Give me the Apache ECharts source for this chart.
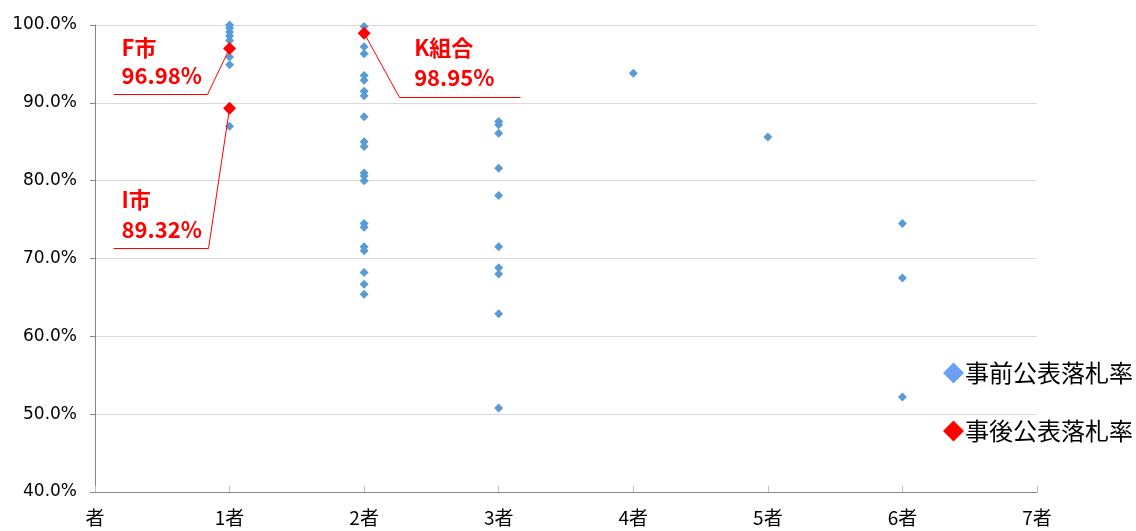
<!DOCTYPE html>
<html>
<head>
<meta charset="utf-8">
<script src="https://cdn.jsdelivr.net/npm/echarts@6/dist/echarts.min.js"></script>
<style>
  html, body { margin: 0; padding: 0; background: #ffffff; }
  #chart { width: 1136px; height: 531px; }
</style>
</head>
<body>
<div id="chart"></div>
<script>
// 事前公表落札率 (%), grouped by number of bidders
const preRates1 = [100.0, 99.6, 99.1, 98.6, 98.0, 95.9, 94.9, 87.0];
const preRates2 = [99.8, 97.2, 96.3, 93.5, 92.9, 91.5, 90.9, 88.2, 85.0, 84.4,
                   81.0, 80.6, 80.0, 74.5, 74.0, 71.5, 71.0, 68.2, 66.7, 65.4];
const preRates3 = [87.6, 87.2, 86.1, 81.6, 78.1, 71.5, 68.8, 68.0, 62.9, 50.8];
const preRates4 = [93.8];
const preRates5 = [85.6];
const preRates6 = [74.5, 67.5, 52.2];

// 事後公表落札率 (%)
const postNames = ['F市', 'I市', 'K組合'];
const postBidders = [1, 1, 2];
const postRates = [96.98, 89.32, 98.95];

// Axis ticks
const yTicks = [40, 50, 60, 70, 80, 90, 100];
const xTicks = [0, 1, 2, 3, 4, 5, 6, 7];

const preGroups = [preRates1, preRates2, preRates3, preRates4, preRates5, preRates6];
const preData = [];
preGroups.forEach((rates, i) => rates.forEach(r => preData.push([i + 1, r])));
const postData = postNames.map((n, i) => [postBidders[i], postRates[i], i]);

// Callout placement for each 事後 point (pixel offsets from the point)
const calloutLayout = [
  { elbow: [-23, 45],  end: [-117, 45],  text: [-108, -1],  gap: 28 },
  { elbow: [-22, 140], end: [-117, 140], text: [-108, 92],  gap: 30 },
  { elbow: [35, 64],   end: [156, 64],   text: [50, 14],    gap: 30 }
];

const RED = '#ff0000';
const BLUE = '#5b9bd5';
const FONT = '"Noto Sans CJK JP", "Noto Sans", sans-serif';
const NUM_FONT = '"DejaVu Sans", "Noto Sans", sans-serif';

const snap = v => Math.round(v) + 0.5;

const chart = echarts.init(document.getElementById('chart'), null, { renderer: 'canvas' });

chart.setOption({
  backgroundColor: '#ffffff',
  animation: false,
  grid: { left: 95, right: 99, top: 25, bottom: 39 },
  xAxis: {
    type: 'value',
    min: xTicks[0],
    max: xTicks[xTicks.length - 1],
    interval: 1,
    splitLine: { show: false },
    axisLine: { lineStyle: { color: '#868686', width: 1 } },
    axisTick: { show: true, inside: true, length: 6, lineStyle: { color: '#bfbfbf' } },
    axisLabel: {
      margin: 16,
      fontSize: 19,
      color: '#000000',
      fontFamily: FONT,
      formatter: v => (v === 0 ? '' : v) + '者'
    }
  },
  yAxis: {
    type: 'value',
    min: yTicks[0],
    max: yTicks[yTicks.length - 1],
    interval: 10,
    splitLine: { show: true, lineStyle: { color: '#d9d9d9', width: 1 } },
    axisLine: { show: true, lineStyle: { color: '#868686', width: 1 } },
    axisTick: { show: true, length: 5, lineStyle: { color: '#868686' } },
    axisLabel: {
      margin: 18,
      fontSize: 17,
      color: '#000000',
      fontFamily: NUM_FONT,
      padding: [4, 0, 0, 0],
      formatter: v => v.toFixed(1) + '%'
    }
  },
  legend: {
    orient: 'vertical',
    left: 938,
    top: 356,
    itemGap: 34,
    itemWidth: 21,
    itemHeight: 21,
    textStyle: { fontSize: 24, color: '#000000', fontFamily: FONT, padding: [0, 0, 0, -4] },
    data: [
      { name: '事前公表落札率', icon: 'diamond', itemStyle: { color: '#6a9ff5', opacity: 1 } },
      { name: '事後公表落札率', icon: 'diamond', itemStyle: { color: RED, opacity: 1 } }
    ]
  },
  series: [
    {
      name: '事前公表落札率',
      type: 'scatter',
      symbol: 'diamond',
      symbolSize: 9,
      itemStyle: { color: BLUE, opacity: 1 },
      data: preData,
      z: 3
    },
    {
      name: '事後公表落札率 callouts',
      type: 'custom',
      silent: true,
      z: 4,
      encode: { x: 0, y: 1 },
      data: postData,
      renderItem: (params, api) => {
        const idx = api.value(2);
        const p = api.coord([api.value(0), api.value(1)]);
        const L = calloutLayout[idx];
        const rateText = postRates[idx].toFixed(2) + '%';
        const textStyleBase = {
          fill: RED,
          font: 'bold 22px ' + FONT,
          textVerticalAlign: 'middle',
          textAlign: 'left'
        };
        return {
          type: 'group',
          children: [
            {
              type: 'polyline',
              shape: {
                points: [
                  p,
                  [snap(p[0] + L.elbow[0]), snap(p[1] + L.elbow[1])],
                  [snap(p[0] + L.end[0]), snap(p[1] + L.end[1])]
                ]
              },
              style: { stroke: RED, lineWidth: 1, fill: null }
            },
            {
              type: 'text',
              x: p[0] + L.text[0],
              y: p[1] + L.text[1],
              style: Object.assign({ text: postNames[idx] }, textStyleBase)
            },
            {
              type: 'text',
              x: p[0] + L.text[0],
              y: p[1] + L.text[1] + L.gap,
              style: Object.assign({ text: rateText }, textStyleBase)
            }
          ]
        };
      }
    },
    {
      name: '事後公表落札率',
      type: 'scatter',
      symbol: 'diamond',
      symbolSize: 13,
      itemStyle: { color: RED, opacity: 1 },
      data: postData.map(d => [d[0], d[1]]),
      z: 5
    }
  ]
});
</script>
</body>
</html>
